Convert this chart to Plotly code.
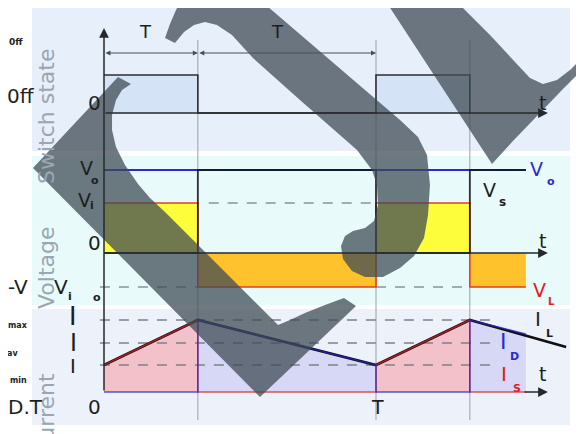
import plotly.graph_objects as go

W, H = 584, 434
OFF = 8  # the page body adds an 8px margin, so the figure is shifted back by it
FW, FH = W - OFF, H - OFF

# time base (one switching period = 1)
duty = 0.345
period = 1.0
t_v_end = 1.551
t_i_end = 1.699
t_arrow = 1.632

# switch state
sw_t = [0, duty, duty, period, period, period + duty, period + duty]
sw_state = [1, 1, 0, 0, 1, 1, 0]

# voltages
v_in = 1.0
v_out = 1.66
v_neg = -0.68
vl_t = [0, duty, duty, period, period, period + duty, period + duty, t_v_end]
v_l = [v_in, v_in, v_neg, v_neg, v_in, v_in, v_neg, v_neg]
v_s = [0, 0, v_out, v_out, 0, 0, v_out, v_out]

# currents
i_min, i_av, i_max = 2.7, 4.9, 7.2
i_cut = 5.8
il_t = [0, duty, period, period + duty, t_i_end]
i_l = [i_min, i_max, i_min, i_max, 4.5]
ic_t = [0, duty, duty, period, period, period + duty, period + duty, t_v_end]
i_s = [i_min, i_max, 0, 0, i_min, i_max, 0, 0]
i_d = [0, 0, i_max, i_min, 0, 0, i_max, i_cut]

# pixel anchors of the drawing
X0_PX, T_PX = 104, 272


def px(x):
    return (x - OFF) / FW


def py(y):
    return 1 - (y - OFF) / FH


def yrange(zero_px, unit_px):
    return [-(H - zero_px) / unit_px, (zero_px - OFF) / unit_px]


fig = go.Figure()


def add_line(x, y, yaxis, color, width, dash=None, opacity=1.0):
    fig.add_trace(go.Scatter(x=x, y=y, yaxis=yaxis, mode="lines",
                             line=dict(color=color, width=width, dash=dash),
                             opacity=opacity, hoverinfo="skip"))


def add_fill(x, y, yaxis, color):
    fig.add_trace(go.Scatter(x=x, y=y, yaxis=yaxis, mode="lines", fill="toself",
                             fillcolor=color, line=dict(width=0),
                             hoverinfo="skip"))


on_t = [0, 0, duty, duty, None, period, period, period + duty, period + duty]
off_t = [duty, duty, period, period, None, period + duty, period + duty, t_v_end, t_v_end]

# --- switch state
add_fill(on_t, [0, 1, 1, 0, None, 0, 1, 1, 0], "y", "#d4e4f6")
add_line(sw_t, sw_state, "y", "#2b2f33", 1.6)

# --- voltage
add_fill(on_t, [0, v_in, v_in, 0, None, 0, v_in, v_in, 0], "y2", "#fdfd3c")
add_fill(off_t, [0, v_neg, v_neg, 0, None, 0, v_neg, v_neg, 0], "y2", "#fdc22c")
add_line([duty + 0.04, period], [v_in, v_in], "y2", "#8c9296", 1.6, dash="10px,9px")
add_line([-0.015, duty, None, period, period + duty], [v_neg, v_neg, None, v_neg, v_neg],
         "y2", "#8c9296", 1.6, dash="10px,9px")
add_line([0, t_v_end], [v_out, v_out], "y2", "#2a2ad2", 2)
add_line(vl_t, v_l, "y2", "#e0401e", 1.6)
add_line(vl_t, v_s, "y2", "#15151f", 1.8, opacity=0.85)

# --- current
add_fill(on_t, [0, i_min, i_max, 0, None, 0, i_min, i_max, 0], "y3", "#f3c1c9")
add_fill(off_t, [0, i_max, i_min, 0, None, 0, i_max, i_cut, 0], "y3", "#d6d8f6")
for lvl in (i_max, i_av, i_min):
    add_line([-0.015, 1.4375], [lvl, lvl], "y3", "#7c8186", 1.6, dash="10px,9px")
add_line(il_t, i_l, "y3", "#101014", 2.6)
add_line(ic_t, i_s, "y3", "#d8202a", 1.5, opacity=0.75)
add_line(ic_t, i_d, "y3", "#2424c8", 1.5, opacity=0.75)

# --- panels and guide lines (layout decoration)
shapes = []
for top, bottom, color in [(8, 151, "#e6effa"), (156, 305, "#e9fafb"), (309, 425, "#ecf1fa")]:
    shapes.append(dict(type="rect", xref="paper", yref="paper", x0=px(32), x1=px(570),
                       y0=py(bottom), y1=py(top), fillcolor=color, line=dict(width=0),
                       layer="below"))
for tg in (duty, period, period + duty):
    shapes.append(dict(type="line", xref="x", yref="paper", x0=tg, x1=tg,
                       y0=py(420), y1=py(40), line=dict(color="#9aa1a7", width=1),
                       layer="below"))

# watermark overlay
watermark = [
    [(165, 38), (170, 24), (176, 10), (181, 0), (260, 0), (330, 60), (400, 120),
     (418, 137), (427, 155), (430, 185), (428, 215), (424, 238), (414, 256),
     (400, 268), (383, 277), (365, 277), (352, 271), (343, 259), (341, 246),
     (345, 236), (353, 231), (365, 228), (374, 221), (378, 205), (377, 185),
     (372, 170), (357, 150), (300, 100), (253, 58), (232, 35), (217, 25),
     (205, 22), (194, 25), (184, 32), (175, 43)],
    [(118, 77), (33, 168), (260, 397), (356, 306), (344, 298), (325, 305),
     (305, 313), (290, 320), (278, 325), (165, 212), (150, 198), (138, 184),
     (125, 165), (116, 147), (112, 130), (112, 115), (116, 100), (122, 90),
     (131, 84)],
    [(385, 0), (455, 0), (490, 35), (515, 62), (530, 78), (543, 84), (557, 80),
     (570, 70), (584, 56), (584, 68), (562, 90), (538, 115), (512, 142),
     (492, 164)],
]
for poly in watermark:
    path = "M " + " L ".join(f"{px(x):.4f},{py(y):.4f}" for x, y in poly) + " Z"
    shapes.append(dict(type="path", xref="paper", yref="paper", path=path,
                       fillcolor="rgba(62,74,84,0.74)", line=dict(width=0),
                       layer="above"))

# --- text and arrows
ann = []


def label(text, x, y, size=19, color="#1e1e1e", bold=False, angle=0, family="DejaVu Sans"):
    ann.append(dict(text=f"<b>{text}</b>" if bold else text, x=px(x), y=py(y),
                    xref="paper", yref="paper", showarrow=False, textangle=angle,
                    xanchor="center", yanchor="middle",
                    font=dict(family=family, size=size, color=color)))


def arrow(**kw):
    base = dict(text="", showarrow=True, arrowhead=2, arrowsize=1.3,
                arrowwidth=1.5, arrowcolor="#26292c")
    base.update(kw)
    ann.append(base)


arrow(x=0, y=py(28), xref="x", yref="paper", ax=0, ay=364, axref="pixel", ayref="pixel")
arrow(x=t_arrow, y=0, xref="x", yref="y", ax=0, ay=0, axref="x", ayref="y")
arrow(x=t_arrow, y=0, xref="x", yref="y2", ax=0, ay=0, axref="x", ayref="y2")
arrow(x=t_arrow, y=0, xref="x", yref="y3", ax=t_v_end - 0.01, ay=0, axref="x", ayref="y3")
for a, b in [(0, duty), (duty, period)]:
    arrow(x=b, y=py(53), xref="x", yref="paper", ax=a, ay=0, axref="x", ayref="pixel",
          arrowside="end+start", startarrowhead=2, arrowsize=1, startarrowsize=1,
          arrowwidth=1, arrowcolor="#4a4e52")

label("T", 145, 31, 18)
label("T", 277, 31, 18)
label("0ff", 16, 42, 9, bold=True)
label("0ff", 21, 96, 20)
label("0", 94, 103, 20)
label("t", 542, 103, 19)
label("Switch state", 46, 117, 22, color="#9aa6b2", angle=-90)
label("Voltage", 46, 268, 22, color="#9aa6b2", angle=-90)
label("Current", 46, 415, 22, color="#9aa6b2", angle=-90)

label("V", 86, 168, 19)
label("o", 95, 180, 11, bold=True)
label("V", 84, 200, 19)
label("i", 92, 205, 11, bold=True)
label("0", 94, 243, 20)
label("-V", 18, 287, 20)
label("V", 61, 287, 20)
label("i", 70, 296, 11, bold=True)
label("o", 97, 297, 11, bold=True)
label("t", 542, 241, 19)
label("V", 536, 169, 19, color="#2a2ad2")
label("o", 551, 181, 11, color="#2a2ad2", bold=True)
label("V", 489, 190, 19)
label("s", 502, 202, 12, bold=True)
label("V", 539, 290, 19, color="#e0201e")
label("L", 551, 301, 10, color="#e0201e", bold=True)

label("max", 18, 325, 8, bold=True)
label("av", 12, 353, 8, bold=True)
label("min", 18, 380, 8, bold=True)
label("I", 73, 316, 27, family="Liberation Sans")
label("I", 73, 342, 25, family="Liberation Sans")
label("I", 73, 365, 21, family="Liberation Sans")
label("D.T", 25, 407, 20)
label("0", 94, 407, 20)
label("T", 377, 407, 19)
label("t", 542, 374, 19)
label("I", 538, 319, 20)
label("L", 549, 333, 11, bold=True)
label("I", 503, 341, 22, color="#2a2ad2")
label("D", 514, 356, 11, color="#2a2ad2", bold=True)
label("I", 504, 374, 20, color="#e0201e")
label("S", 517, 388, 11, color="#e0201e", bold=True)

hidden = dict(visible=False, fixedrange=True)
fig.update_layout(
    width=FW, height=FH,
    margin=dict(l=0, r=0, t=0, b=0),
    paper_bgcolor="white", plot_bgcolor="white",
    showlegend=False,
    xaxis=dict(range=[(OFF - X0_PX) / T_PX, (W - X0_PX) / T_PX], domain=[0, 1], **hidden),
    yaxis=dict(range=yrange(113, 38), domain=[0, 1], **hidden),
    yaxis2=dict(range=yrange(253, 50), overlaying="y", **hidden),
    yaxis3=dict(range=yrange(392, 10), overlaying="y", **hidden),
    shapes=shapes,
    annotations=ann,
)

fig.write_html("out.html")
